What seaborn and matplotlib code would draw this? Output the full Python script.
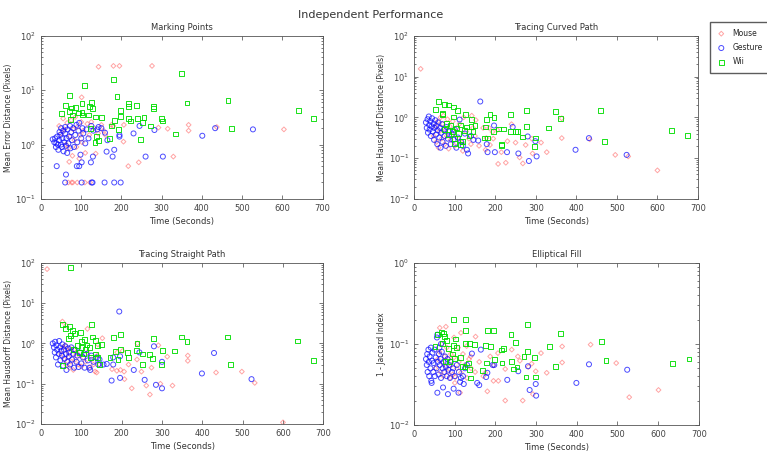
import numpy as np
import pandas as pd
import seaborn as sns
import matplotlib.pyplot as plt
from matplotlib.ticker import LogLocator, NullFormatter

# ---- DATA ----

# Marking Points
mp_mouse_x = [45, 50, 55, 58, 62, 65, 68, 70, 72, 75, 78, 80, 83, 85, 88, 90, 95, 98, 100, 102,
              105, 110, 115, 120, 125, 132, 136, 142, 150, 155, 160, 175, 180,
              101, 143, 180, 195, 276, 206, 205, 217, 243, 292, 315, 329, 367, 367, 437, 604,
              68, 76, 79, 90, 109, 122]
mp_mouse_y = [2.2, 1.6, 3.0, 1.9, 1.0, 2.5, 0.85, 0.48, 1.4, 2.8, 0.62, 1.9, 1.2, 3.2, 0.9, 2.1, 0.55, 1.5, 2.6, 1.1,
              1.8, 0.7, 2.4, 1.5, 2.6, 2.0, 0.68, 1.6, 2.3, 1.8, 1.5, 2.3, 2.2,
              7.4, 27, 28, 28, 28, 2.3, 1.13, 0.40, 0.47, 2.05, 1.95, 0.60, 2.3, 1.8, 2.1, 1.9,
              0.2, 0.2, 0.2, 0.2, 0.2, 0.2]
mp_gesture_x = [29, 33, 35, 37, 38, 40, 42, 43, 45, 46, 48, 50, 50, 52, 53, 55, 56, 58, 60, 60,
                62, 63, 65, 66, 68, 70, 72, 73, 75, 77, 80, 82, 85, 88, 90, 93, 95, 98, 100, 103,
                105, 110, 113, 118, 125, 130, 140, 150,
                245, 230, 282, 260, 303, 401, 433, 527, 195, 195, 182, 163, 178, 165, 159, 143,
                129, 124, 101, 95, 89, 62, 39,
                60, 101, 126, 128, 158, 182, 198]
mp_gesture_y = [1.25, 1.1, 1.3, 0.9, 1.05, 1.4, 1.0, 0.8, 1.2, 1.7, 1.5, 1.0, 2.0, 0.9, 1.3, 1.8, 0.75, 1.1, 1.6, 2.1,
                0.95, 1.3, 0.7, 1.9, 1.05, 1.4, 2.2, 0.85, 1.7, 1.2, 2.0, 0.9, 1.5, 2.3, 1.1, 1.8, 2.5, 0.65, 1.3, 2.0,
                1.6, 1.05, 1.9, 1.3, 2.2, 1.8, 1.9, 2.0,
                2.2, 1.6, 1.85, 0.6, 0.6, 1.45, 2.0, 1.9, 1.5, 1.4, 0.8, 0.74, 0.6, 1.2, 1.65, 2.1,
                0.6, 0.47, 0.47, 0.40, 0.40, 0.28, 0.40,
                0.2, 0.2, 0.2, 0.2, 0.2, 0.2, 0.2]
mp_wii_x = [51, 61, 70, 70, 76, 74, 79, 86, 94, 102, 102, 104, 108, 120, 126, 128, 118, 135, 151, 123,
            138, 142, 134, 170, 175, 180, 182, 189, 192, 198, 197, 217, 217, 217, 222, 238, 239, 247, 253, 256,
            273, 280, 280, 299, 302, 334, 350, 363, 465, 473, 641, 677]
mp_wii_y = [3.7, 5.3, 7.9, 4.1, 4.7, 2.9, 3.5, 4.8, 3.8, 5.6, 3.9, 3.5, 12.3, 5.0, 6.0, 4.6, 3.5, 3.2, 3.1, 2.0,
            1.4, 1.2, 1.1, 1.3, 2.2, 15.5, 2.8, 7.6, 1.9, 4.3, 3.3, 5.6, 5.0, 3.0, 2.7, 5.3, 3.0, 1.25, 2.5, 3.1,
            2.2, 5.0, 4.6, 3.0, 2.7, 1.56, 20, 5.8, 6.5, 2.0, 4.3, 3.0]

# Tracing Curved Path
cp_mouse_x = [48, 52, 55, 58, 60, 62, 65, 68, 70, 72, 75, 78, 80, 82, 85, 88, 90, 95, 98, 100,
              105, 108, 112, 118, 120, 122, 128, 135, 140, 145, 150, 160, 170, 185, 195, 215, 230,
              16, 207, 226, 268, 260, 250, 275, 290, 292, 313, 327, 364, 364, 433, 496, 528, 600,
              240, 205, 193, 187, 176, 178, 142, 152]
cp_mouse_y = [0.35, 0.6, 0.25, 0.8, 0.18, 0.45, 1.0, 0.3, 0.7, 1.1, 0.22, 0.5, 0.35, 0.9, 0.17, 0.6, 0.28, 0.8, 0.4, 0.2,
              0.55, 0.3, 0.7, 0.24, 0.15, 1.0, 0.45, 0.3, 0.22, 0.55, 0.35, 0.2, 0.55, 0.55, 0.3, 0.14, 0.26,
              15.5, 0.072, 0.077, 0.074, 0.104, 0.24, 0.21, 0.30, 0.13, 0.24, 0.14, 0.95, 0.31, 0.29, 0.12, 0.11, 0.05,
              0.68, 0.49, 0.44, 0.21, 0.16, 0.31, 1.1, 0.86]
cp_gesture_x = [29, 31, 33, 34, 36, 37, 38, 40, 41, 43, 44, 46, 48, 49, 50, 52, 54, 55, 57, 58,
                60, 62, 64, 65, 67, 69, 70, 73, 75, 78, 80, 83, 86, 90, 93, 97, 100, 104, 108, 112,
                116, 120, 125, 130, 140,
                163, 229, 257, 283, 302, 299, 280, 398, 431, 524, 199, 181, 179, 197, 243, 146, 158, 133]
cp_gesture_y = [0.75, 0.55, 0.9, 0.42, 1.05, 0.65, 0.5, 0.8, 0.35, 0.6, 0.95, 0.45, 0.7, 0.28, 0.55, 0.85, 0.38, 0.62, 0.22, 0.48,
                0.75, 0.32, 0.55, 0.18, 0.42, 0.68, 0.25, 0.5, 0.35, 0.2, 0.58, 0.3, 0.45, 0.22, 0.38, 0.28, 0.5, 0.18, 0.32, 0.88,
                0.25, 0.2, 0.4, 0.16, 0.35,
                2.45, 0.14, 0.13, 0.085, 0.11, 0.26, 0.34, 0.16, 0.31, 0.12, 0.14, 0.14, 0.22, 0.63, 0.58, 0.28, 0.27, 0.13]
cp_wii_x = [52, 60, 75, 85, 96, 107, 69, 69, 97, 127, 141, 187, 197, 179, 238, 278, 348, 360, 460, 331,
            278, 268, 296, 299, 249, 238, 254, 216, 216, 220, 207, 176, 195, 181, 173, 470, 635, 675,
            75, 80, 85, 90, 95, 100, 105, 110, 115, 120, 125, 130, 135, 140, 145, 150, 115, 100]
cp_wii_y = [1.55, 2.5, 2.1, 2.0, 1.8, 1.5, 1.26, 1.15, 1.02, 1.17, 0.9, 1.2, 0.98, 0.87, 1.15, 1.47, 1.4, 0.95, 1.45, 0.55,
            0.6, 0.33, 0.19, 0.31, 0.45, 0.46, 0.46, 0.22, 0.2, 0.52, 0.52, 0.58, 0.45, 0.31, 0.31, 0.26, 0.48, 0.36,
            0.5, 0.7, 0.38, 0.62, 0.45, 0.3, 0.55, 0.4, 0.65, 0.25, 0.48, 0.58, 0.35, 0.6, 0.45, 0.62, 0.22, 0.23]

# Tracing Straight Path
sp_mouse_x = [50, 55, 58, 60, 62, 65, 68, 70, 72, 75, 78, 80, 82, 85, 88, 92, 95, 100, 105, 110,
              115, 120, 125, 130, 140, 145,
              15, 53, 62, 115, 152, 141, 202, 189, 217, 206, 207, 225, 249, 261, 270, 274, 291, 296, 313, 326,
              364, 364, 238, 239, 434, 498, 530, 600, 197, 188, 176, 138, 134]
sp_mouse_y = [0.55, 0.8, 0.4, 0.9, 0.3, 0.65, 0.45, 0.25, 0.75, 0.35, 0.55, 0.22, 0.7, 0.4, 0.6, 0.3, 0.5, 0.27, 0.45, 0.35,
              0.6, 0.25, 0.4, 0.3, 0.5, 0.3,
              70, 3.5, 2.8, 2.3, 1.35, 0.95, 0.65, 0.6, 0.3, 0.2, 0.13, 0.077, 0.2, 0.09, 0.054, 0.25, 0.9, 0.1, 0.47, 0.09,
              0.5, 0.37, 0.4, 1.0, 0.19, 0.2, 0.105, 0.011, 0.22, 0.21, 0.23, 0.19, 0.2]
sp_gesture_x = [29, 32, 34, 35, 37, 38, 40, 42, 44, 45, 47, 48, 50, 52, 53, 55, 57, 58, 60, 62,
                63, 65, 67, 69, 70, 72, 75, 77, 80, 82, 85, 88, 90, 93, 96, 100, 104, 108, 112, 116,
                120, 125, 130, 138,
                194, 175, 196, 196, 244, 280, 300, 300, 285, 257, 230, 399, 429, 522, 179, 179, 163, 155, 145, 142, 122]
sp_gesture_y = [1.0, 0.8, 0.6, 1.1, 0.45, 0.9, 0.7, 0.3, 0.55, 1.15, 0.8, 0.38, 0.65, 0.5, 0.95, 0.28, 0.7, 0.42, 0.85, 0.55,
                0.22, 0.35, 0.75, 0.48, 0.6, 0.3, 0.8, 0.4, 0.55, 0.25, 0.7, 0.35, 0.5, 0.26, 0.6, 0.32, 0.45, 0.25, 0.55, 0.38,
                0.25, 0.5, 0.35, 0.45,
                6.2, 0.12, 0.14, 0.48, 0.6, 0.85, 0.35, 0.077, 0.094, 0.125, 0.22, 0.18, 0.58, 0.13, 0.3, 0.45, 0.31, 0.3, 0.4, 0.3, 0.22]
sp_wii_x = [74, 53, 61, 71, 79, 74, 69, 82, 97, 100, 107, 114, 125, 128, 136, 140, 150, 171, 179, 184,
            197, 191, 197, 215, 216, 238, 237, 251, 251, 270, 276, 278, 301, 298, 331, 348, 362, 463, 470, 636,
            675, 80, 90, 95, 100, 105, 110, 120, 135, 140, 145, 54, 122]
sp_wii_y = [75, 3.0, 2.3, 2.6, 2.1, 1.6, 1.3, 1.75, 1.85, 1.1, 1.25, 0.92, 2.9, 1.45, 1.2, 0.9, 0.95, 0.44, 1.4, 0.62,
            1.65, 0.4, 0.72, 0.6, 0.44, 1.0, 0.68, 0.55, 0.3, 0.52, 0.42, 1.3, 0.67, 0.3, 0.65, 1.45, 1.1, 1.45, 0.3, 1.15,
            0.38, 0.7, 0.9, 0.6, 0.8, 0.55, 0.72, 0.8, 0.55, 0.45, 0.3, 0.29, 0.45]

# Elliptical Fill
ef_mouse_x = [52, 58, 62, 65, 68, 70, 72, 75, 78, 80, 83, 85, 88, 90, 92, 95, 98, 100, 105, 108,
              110, 115, 120, 125, 130, 135, 140, 150, 160, 170,
              63, 78, 98, 115, 151, 129, 139, 175, 180, 187, 195, 195, 207, 206, 224, 224, 240, 255, 260, 267,
              281, 289, 292, 299, 312, 326, 364, 364, 434, 497, 529, 601, 113, 101]
ef_mouse_y = [0.05, 0.065, 0.08, 0.045, 0.1, 0.058, 0.04, 0.07, 0.052, 0.09, 0.045, 0.065, 0.038, 0.075, 0.055, 0.042, 0.068, 0.033, 0.05, 0.09,
              0.06, 0.044, 0.075, 0.055, 0.038, 0.065, 0.05, 0.045, 0.06, 0.04,
              0.158, 0.163, 0.12, 0.137, 0.123, 0.094, 0.07, 0.044, 0.026, 0.07, 0.054, 0.035, 0.035, 0.077, 0.049, 0.020, 0.085, 0.07, 0.062, 0.020,
              0.052, 0.057, 0.024, 0.046, 0.077, 0.044, 0.093, 0.059, 0.098, 0.058, 0.022, 0.027, 0.025, 0.039]
ef_gesture_x = [29, 31, 32, 33, 35, 36, 37, 38, 40, 41, 42, 44, 45, 47, 48, 50, 51, 53, 55, 56,
                57, 58, 60, 61, 63, 65, 66, 68, 70, 72, 74, 76, 78, 80, 82, 84, 86, 88, 90, 93,
                96, 100, 105, 110, 115, 120, 125, 130, 62, 66,
                164, 155, 160, 177, 193, 197, 180, 229, 256, 280, 284, 299, 300, 399, 430, 524, 142,
                109, 83, 57, 71, 97, 113, 122, 43]
ef_gesture_y = [0.065, 0.055, 0.075, 0.045, 0.085, 0.06, 0.04, 0.07, 0.05, 0.09, 0.035, 0.062, 0.078, 0.045, 0.058, 0.085, 0.04, 0.068, 0.05, 0.12,
                0.13, 0.06, 0.042, 0.075, 0.055, 0.065, 0.038, 0.08, 0.05, 0.06, 0.045, 0.07, 0.052, 0.04, 0.065, 0.048, 0.055, 0.038, 0.06, 0.045,
                0.05, 0.04, 0.055, 0.045, 0.038, 0.04, 0.05, 0.055, 0.09, 0.1,
                0.085, 0.033, 0.031, 0.039, 0.055, 0.055, 0.044, 0.036, 0.046, 0.053, 0.027, 0.032, 0.023, 0.033, 0.056, 0.048, 0.076,
                0.025, 0.024, 0.025, 0.029, 0.028, 0.034, 0.032, 0.033]
ef_wii_x = [96, 127, 127, 181, 196, 278, 238, 249, 360, 460, 332, 219, 197, 176, 187, 215, 270, 278, 295, 240,
            245, 253, 216, 177, 169, 348, 275, 299, 472, 635, 676,
            51, 58, 68, 72, 74, 70, 80, 85, 97, 101, 104, 95, 100, 88, 76, 114, 127, 136, 148, 118,
            133, 136, 139, 125]
ef_wii_y = [0.2, 0.2, 0.148, 0.148, 0.145, 0.173, 0.13, 0.103, 0.135, 0.108, 0.092, 0.088, 0.064, 0.096, 0.093, 0.084, 0.07, 0.08, 0.068, 0.06,
            0.049, 0.052, 0.058, 0.058, 0.047, 0.053, 0.039, 0.039, 0.062, 0.057, 0.065,
            0.092, 0.13, 0.14, 0.135, 0.123, 0.10, 0.11, 0.088, 0.095, 0.115, 0.09, 0.075, 0.066, 0.06, 0.06, 0.068, 0.1, 0.1, 0.098, 0.053,
            0.058, 0.048, 0.038, 0.052]

# ---- PANELS ----
panels = [
    ('Marking Points', 'Mean Error Distance (Pixels)', (0.1, 100),
     (mp_mouse_x, mp_mouse_y), (mp_gesture_x, mp_gesture_y), (mp_wii_x, mp_wii_y)),
    ('Tracing Curved Path', 'Mean Hausdorff Distance (Pixels)', (0.01, 100),
     (cp_mouse_x, cp_mouse_y), (cp_gesture_x, cp_gesture_y), (cp_wii_x, cp_wii_y)),
    ('Tracing Straight Path', 'Mean Hausdorff Distance (Pixels)', (0.01, 100),
     (sp_mouse_x, sp_mouse_y), (sp_gesture_x, sp_gesture_y), (sp_wii_x, sp_wii_y)),
    ('Elliptical Fill', '1 - Jaccard Index', (0.01, 1),
     (ef_mouse_x, ef_mouse_y), (ef_gesture_x, ef_gesture_y), (ef_wii_x, ef_wii_y)),
]

# axes boxes in figure fractions (left, bottom, width, height)
boxes = [
    (0.0535, 0.562, 0.367, 0.359),
    (0.540, 0.562, 0.370, 0.359),
    (0.0535, 0.066, 0.368, 0.355),
    (0.540, 0.064, 0.371, 0.357),
]

sns.set_style('ticks')
plt.rcParams['font.family'] = ['DejaVu Sans']

fig = plt.figure(figsize=(7.67, 4.54), dpi=100)
fig.text(0.483, 0.967, 'Independent Performance', ha='center', va='center',
         fontsize=8, color='#333333')

styles = [
    ('Mouse', 'D', '#ff5a5a', 6, 0.55),
    ('Gesture', 'o', '#1010ff', 13, 0.75),
    ('Wii', 's', '#00dd00', 12, 0.9),
]

handles = []
for box, (title, ylabel, ylim, *series) in zip(boxes, panels):
    ax = fig.add_axes(box)
    for (label, marker, col, size, alpha), (xs, ys) in zip(styles, series):
        df = pd.DataFrame({'time': xs, 'val': ys})
        sns.scatterplot(data=df, x='time', y='val', marker=marker, s=size,
                        facecolors='none', edgecolors=col, linewidths=0.7,
                        alpha=alpha, ax=ax, label=label, legend=False)
    ax.set_yscale('log')
    ax.set_xlim(0, 700)
    ax.set_ylim(*ylim)
    ax.set_xticks(range(0, 701, 100))
    ax.yaxis.set_minor_locator(LogLocator(base=10, subs=np.arange(2, 10)))
    ax.yaxis.set_minor_formatter(NullFormatter())
    ax.tick_params(which='both', direction='in', top=True, right=True,
                   labelsize=6, colors='#444444', width=0.5)
    ax.tick_params(which='major', length=3)
    ax.tick_params(which='minor', length=1.5)
    for sp in ax.spines.values():
        sp.set_linewidth(0.6)
        sp.set_color('#555555')
    ax.set_title(title, fontsize=6, pad=4, color='#333333')
    ax.set_xlabel('Time (Seconds)', fontsize=6, labelpad=3, color='#333333')
    ax.set_ylabel(ylabel, fontsize=5.5, labelpad=2, color='#333333')
    if not handles:
        handles = ax.collections

fig.legend(handles=handles, labels=['Mouse', 'Gesture', 'Wii'],
           loc='upper left', bbox_to_anchor=(706 / 767, 1 - 18 / 454),
           fontsize=5.5, frameon=True, fancybox=False, edgecolor='#333333',
           borderpad=0.9, labelspacing=0.7, handlelength=1.2,
           handletextpad=0.9, markerscale=1.0)

fig.savefig('out.png', dpi=100)
